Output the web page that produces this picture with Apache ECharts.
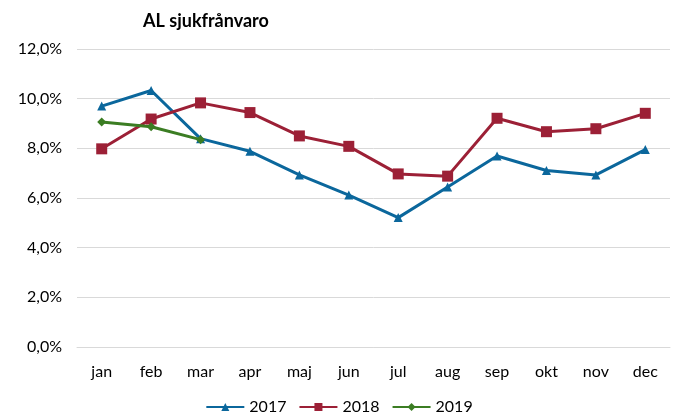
<!DOCTYPE html>
<html>
<head>
<meta charset="utf-8">
<script src="https://cdn.jsdelivr.net/npm/echarts@6/dist/echarts.min.js"></script>
<style>
  html, body { margin: 0; padding: 0; background: #fff; }
  #chart { width: 678px; height: 412px; }
</style>
</head>
<body>
<div id="chart"></div>
<script>
// data (percent)
const months = ['jan', 'feb', 'mar', 'apr', 'maj', 'jun', 'jul', 'aug', 'sep', 'okt', 'nov', 'dec'];
const values2017 = [9.70, 10.33, 8.39, 7.88, 6.93, 6.12, 5.21, 6.44, 7.69, 7.11, 6.93, 7.95];
const values2018 = [7.98, 9.18, 9.83, 9.44, 8.50, 8.08, 6.97, 6.88, 9.21, 8.67, 8.79, 9.41];
const values2019 = [9.06, 8.87, 8.35];

const font = 'Lato, "Open Sans", sans-serif';
const chart = echarts.init(document.getElementById('chart'));

function lineSeries(name, data, color, symbol, size) {
  return {
    name: name,
    type: 'line',
    data: data,
    symbol: symbol,
    symbolSize: size,
    showAllSymbol: true,
    lineStyle: { color: color, width: 3 },
    itemStyle: { color: color },
  };
}

chart.setOption({
  animation: false,
  title: {
    text: 'AL sjukfrånvaro',
    left: 201,
    top: 7,
    textAlign: 'center',
    textStyle: { fontFamily: font, fontSize: 18, fontWeight: 'bold', color: '#000' },
  },
  grid: { left: 77, right: 8, top: 49, bottom: 65 },
  legend: {
    top: 394,
    left: 'center',
    itemWidth: 38,
    itemHeight: 10,
    itemGap: 12,
    textStyle: { fontFamily: font, fontSize: 16, color: '#000' },
    data: ['2017', '2018', '2019'],
  },
  xAxis: {
    type: 'category',
    data: months,
    boundaryGap: true,
    axisLine: { lineStyle: { color: '#d9d9d9', width: 1 } },
    axisTick: { show: false },
    axisLabel: { fontFamily: font, fontSize: 16, color: '#000', margin: 17 },
  },
  yAxis: {
    type: 'value',
    min: 0,
    max: 12,
    interval: 2,
    axisLine: { show: false },
    axisTick: { show: false },
    splitLine: { lineStyle: { color: '#d9d9d9', width: 1 } },
    axisLabel: {
      fontFamily: font,
      fontSize: 16,
      color: '#000',
      margin: 15,
      formatter: (v) => v.toFixed(1).replace('.', ',') + '%',
    },
  },
  series: [
    lineSeries('2017', values2017, '#0b679c', 'triangle', 9),
    lineSeries('2018', values2018, '#9c2036', 'rect', 11),
    lineSeries('2019', values2019, '#3b7d23', 'diamond', 9),
  ],
});
</script>
</body>
</html>
